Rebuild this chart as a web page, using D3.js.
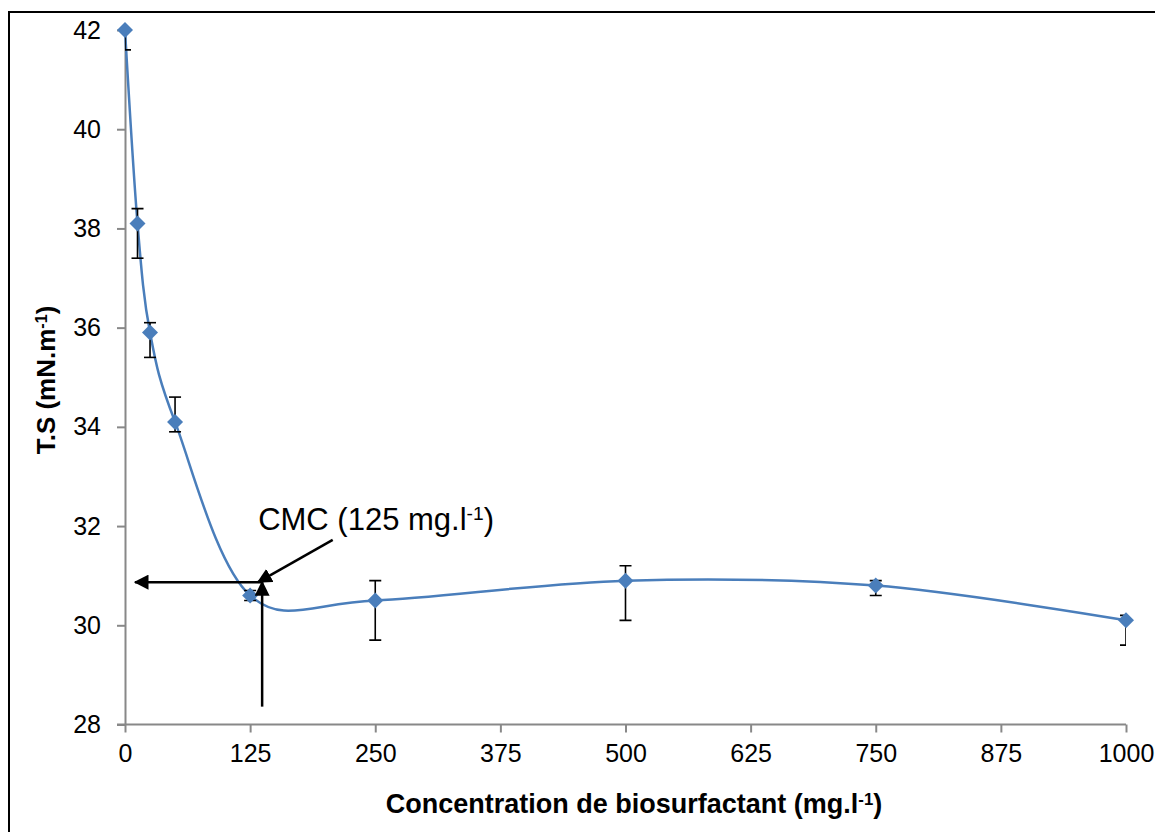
<!DOCTYPE html>
<html>
<head>
<meta charset="utf-8">
<script src="https://cdn.jsdelivr.net/npm/d3@7"></script>
<style>
  body { margin: 0; background: #fff; }
  text { font-family: "Liberation Sans", Arial, sans-serif; fill: #000; }
</style>
</head>
<body>
<div id="chart"></div>
<script>
// Data
const concentrations = [0, 12.5, 25, 50, 125, 250, 500, 750, 1000];
const tension = [42.0, 38.1, 35.9, 34.1, 30.6, 30.5, 30.9, 30.8, 30.1];
const errPlus = [0.4, 0.3, 0.2, 0.5, 0.1, 0.4, 0.3, 0.1, 0.1];
const errMinus = [0.4, 0.7, 0.5, 0.2, 0.1, 0.8, 0.8, 0.2, 0.5];
const xTicks = [0, 125, 250, 375, 500, 625, 750, 875, 1000];
const yTicks = [28, 30, 32, 34, 36, 38, 40, 42];

// CMC annotation, in data units
const cmcValue = 30.87;
const cmcConc = 137;

const width = 1155, height = 832;
const blue = "#4A7EBB";

const svg = d3.select("#chart")
  .append("svg")
    .attr("width", width)
    .attr("height", height);

// outer frame (runs off the right and bottom edges)
svg.append("rect")
  .attr("x", 9).attr("y", 12)
  .attr("width", 1170).attr("height", 840)
  .attr("fill", "none")
  .attr("stroke", "#000")
  .attr("stroke-width", 2);

const x = d3.scaleLinear().domain([0, 1000]).range([125, 1126]);
const y = d3.scaleLinear().domain([28, 42]).range([724.5, 30]);

const defs = svg.append("defs");
defs.append("clipPath").attr("id", "plot-clip")
  .append("rect")
    .attr("x", x(0)).attr("y", y(42))
    .attr("width", x(1000) - x(0)).attr("height", y(28) - y(42));

defs.append("marker")
    .attr("id", "arrow")
    .attr("viewBox", "0 0 10 10")
    .attr("refX", 9).attr("refY", 5)
    .attr("markerWidth", 6).attr("markerHeight", 6)
    .attr("markerUnits", "strokeWidth")
    .attr("orient", "auto")
  .append("path")
    .attr("d", "M0,0 L10,5 L0,10 Z")
    .attr("fill", "#000");

// Axes
const xAxis = svg.append("g")
  .attr("transform", `translate(0,${y(28)})`)
  .call(d3.axisBottom(x).tickValues(xTicks).tickFormat(d3.format("d"))
    .tickSize(8).tickSizeOuter(0).tickPadding(12));
const yAxis = svg.append("g")
  .attr("transform", `translate(${x(0)},0)`)
  .call(d3.axisLeft(y).tickValues(yTicks).tickSize(8).tickSizeOuter(0).tickPadding(16));

[xAxis, yAxis].forEach(g => {
  g.select(".domain").attr("stroke", "#888").attr("stroke-width", 2);
  g.selectAll(".tick line").attr("stroke", "#888").attr("stroke-width", 2);
  g.selectAll(".tick text")
    .attr("fill", "#000")
    .style("font-family", '"Liberation Sans", Arial, sans-serif')
    .style("font-size", "25px");
});
// x axis line also covers the y tick at 28
xAxis.select(".domain").attr("d", `M${x(0) - 8},0H${x(1000)}`);

const points = concentrations.map((c, i) => ({
  c: c, v: tension[i], hi: tension[i] + errPlus[i], lo: tension[i] - errMinus[i]
}));

// Smoothed line
const line = d3.line()
  .x(d => x(d.c))
  .y(d => y(d.v))
  .curve(d3.curveCardinal.tension(0));

svg.append("path")
  .datum(points)
  .attr("fill", "none")
  .attr("stroke", blue)
  .attr("stroke-width", 2.5)
  .attr("d", line);

// Error bars
const err = svg.append("g")
  .attr("clip-path", "url(#plot-clip)")
  .attr("stroke", "#000")
  .attr("stroke-width", 1.6);
points.forEach(d => {
  err.append("line")
    .attr("x1", x(d.c)).attr("x2", x(d.c))
    .attr("y1", y(d.hi)).attr("y2", y(d.lo));
  [d.hi, d.lo].forEach(v => {
    err.append("line")
      .attr("x1", x(d.c) - 6).attr("x2", x(d.c) + 6)
      .attr("y1", y(v)).attr("y2", y(v));
  });
});

// Diamond markers
svg.selectAll(".pt")
  .data(points)
  .enter()
  .append("path")
    .attr("class", "pt")
    .attr("transform", d => `translate(${x(d.c)},${y(d.v)}) rotate(45)`)
    .attr("d", d3.symbol(d3.symbolSquare, 128))
    .attr("fill", blue);

// CMC arrows
const arrows = [
  [cmcConc + 1, cmcValue, 10, cmcValue],
  [cmcConc, 28.36, cmcConc, cmcValue],
  [207.5, 31.72, 133, cmcValue]
];
svg.selectAll(".arrow")
  .data(arrows)
  .enter()
  .append("line")
    .attr("class", "arrow")
    .attr("x1", d => x(d[0])).attr("y1", d => y(d[1]))
    .attr("x2", d => x(d[2])).attr("y2", d => y(d[3]))
    .attr("stroke", "#000")
    .attr("stroke-width", 2.5)
    .attr("marker-end", "url(#arrow)");

const cmcText = svg.append("text")
  .attr("x", x(133))
  .attr("y", y(31.92))
  .style("font-size", "31px");
cmcText.append("tspan").text("CMC (125 mg.l");
cmcText.append("tspan").attr("dy", "-0.5em").style("font-size", "0.62em").text("-1");
cmcText.append("tspan").attr("dy", "0.31em").text(")");

// Axis titles
const xTitle = svg.append("text")
  .attr("x", 634)
  .attr("y", 813)
  .attr("text-anchor", "middle")
  .style("font-size", "27px")
  .style("font-weight", "bold");
xTitle.append("tspan").text("Concentration de biosurfactant (mg.l");
xTitle.append("tspan").attr("dy", "-0.5em").style("font-size", "0.62em").text("-1");
xTitle.append("tspan").attr("dy", "0.31em").text(")");

const yTitle = svg.append("text")
  .attr("transform", "translate(55,380) rotate(-90)")
  .attr("text-anchor", "middle")
  .style("font-size", "26px")
  .style("font-weight", "bold");
yTitle.append("tspan").text("T.S (mN.m");
yTitle.append("tspan").attr("dy", "-0.5em").style("font-size", "0.62em").text("-1");
yTitle.append("tspan").attr("dy", "0.31em").text(")");
</script>
</body>
</html>
